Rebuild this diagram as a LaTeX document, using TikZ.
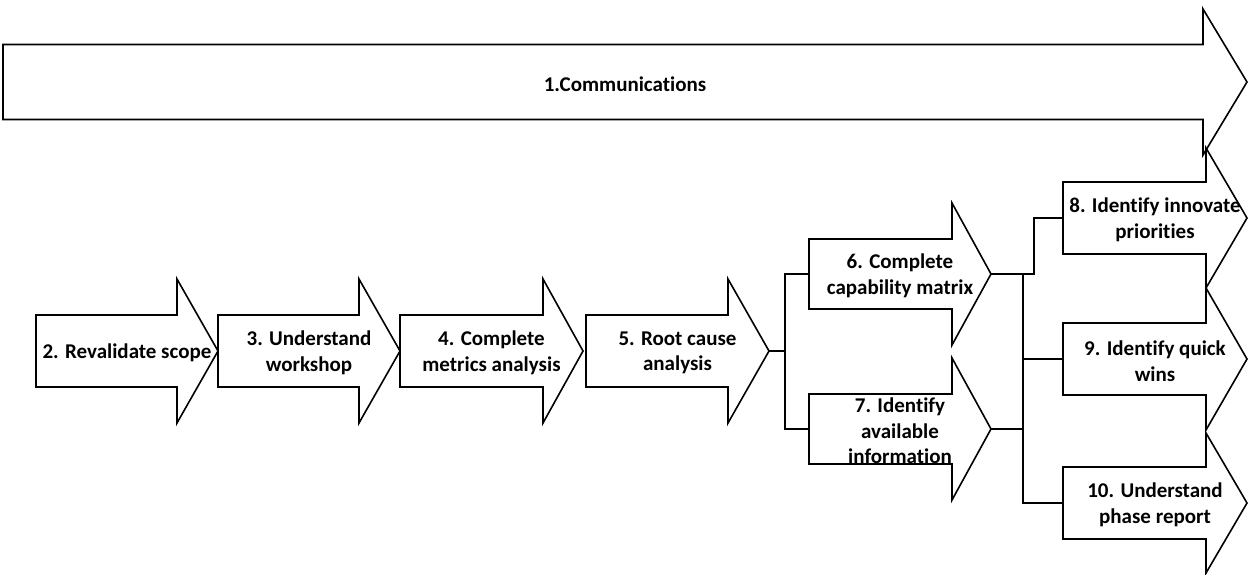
\documentclass[tikz,border=0pt]{standalone}
\usepackage{fontspec}
\setmainfont{Carlito}[Ligatures=NoCommon]
\begin{document}
\begin{tikzpicture}[x=1pt,y=-1pt,
  arrowline/.style={draw=black,line width=1.6pt,fill=white,line join=miter},
  lbl/.style={align=center,inner sep=0pt,font=\bfseries\fontsize{21}{25.5}\selectfont},
  link/.style={draw=black,line width=1.6pt}]
\useasboundingbox (0,0) rectangle (1250,574);

% block arrow: name, left x, tip x, centre y, body half height,
% head half height, head length, label
\newcommand{\flowarrow}[8]{%
  \path[arrowline] (#2,#4-#5) -- (#3-#7,#4-#5) -- (#3-#7,#4-#6) -- (#3,#4)
     -- (#3-#7,#4+#6) -- (#3-#7,#4+#5) -- (#2,#4+#5) -- cycle;
  \node[lbl] (#1) at ({(#2+#3)/2},#4+2) {#8};
  \coordinate (#1-in) at (#2,#4);
  \coordinate (#1-out) at (#3,#4);
}

\flowarrow{a1}{3}{1247}{82}{37.5}{73}{44}{1.Communications}

\flowarrow{a2}{36}{218}{351}{36}{72}{41}{2. Revalidate scope}
\flowarrow{a3}{218}{400}{351}{36}{72}{41}{3. Understand\\workshop}
\flowarrow{a4}{400}{583}{351}{36}{72}{40}{4. Complete\\metrics analysis}
\flowarrow{a5}{586}{769}{351}{36}{72}{41}{5. Root cause\\analysis}

\flowarrow{a6}{809}{991}{274}{35}{71}{39}{6. Complete\\capability matrix}
\flowarrow{a7}{809}{991}{429}{35}{71}{39}{7. Identify\\available\\information}

\flowarrow{a8}{1063}{1247}{218}{36}{70}{41}{8. Identify innovate\\priorities}
\flowarrow{a9}{1063}{1247}{359}{36}{71}{41}{9. Identify quick\\wins}
\flowarrow{a10}{1063}{1247}{503}{36}{70}{41}{10. Understand\\phase report}

% connectors between the steps
\draw[link] (a5-out) -- ++(16,0) |- (a6-in);
\draw[link] (a5-out) -- ++(16,0) |- (a7-in);
\draw[link] (a6-out) -- ++(43,0) |- (a8-in);
\draw[link] (a6-out) -- ++(32,0) |- (a9-in);
\draw[link] (a6-out) -- ++(32,0) |- (a10-in);
\draw[link] (a7-out) -- ++(32,0) |- (a10-in);
\end{tikzpicture}
\end{document}
